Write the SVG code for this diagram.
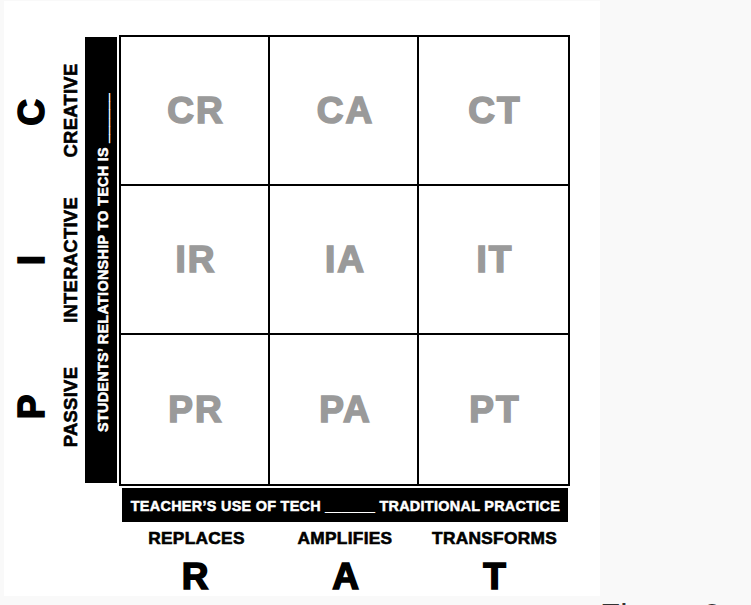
<svg xmlns="http://www.w3.org/2000/svg" width="751" height="605" viewBox="0 0 751 605">
<style>
.b{font-family:"Liberation Sans",Arial,sans-serif;font-weight:bold}
.cell rect{fill:#fff;stroke:#000;stroke-width:2}
.cl{font-size:37px;fill:#9a9a9a;stroke:#9a9a9a;stroke-width:1.6;letter-spacing:2px;text-anchor:middle}
.big{font-size:37px;fill:#000;stroke:#000;stroke-width:1.6;text-anchor:middle}
.side{font-size:18.4px;fill:#000;stroke:#000;stroke-width:0.6;letter-spacing:0.3px;text-anchor:middle}
.bar{fill:#000}
.wt{font-size:14.4px;fill:#fff;stroke:#fff;stroke-width:0.5;letter-spacing:0.3px;text-anchor:middle}
.col{font-size:17.3px;fill:#000;stroke:#000;stroke-width:0.6;letter-spacing:0.3px;text-anchor:middle}
</style>
<rect width="751" height="605" fill="#f9f9f9"/>
<rect x="4" y="1" width="596" height="595" fill="#fff"/>

<g id="connectors"/>

<g id="cell-CR" class="cell"><rect x="120" y="36" width="149" height="149"/><text class="b cl" x="196" y="122.5">CR</text></g>
<g id="cell-CA" class="cell"><rect x="269" y="36" width="149" height="149"/><text class="b cl" x="345.5" y="122.5">CA</text></g>
<g id="cell-CT" class="cell"><rect x="418" y="36" width="151" height="149"/><text class="b cl" x="495" y="122.5">CT</text></g>
<g id="cell-IR" class="cell"><rect x="120" y="185" width="149" height="149"/><text class="b cl" x="196" y="271.5">IR</text></g>
<g id="cell-IA" class="cell"><rect x="269" y="185" width="149" height="149"/><text class="b cl" x="345.5" y="271.5">IA</text></g>
<g id="cell-IT" class="cell"><rect x="418" y="185" width="151" height="149"/><text class="b cl" x="495" y="271.5">IT</text></g>
<g id="cell-PR" class="cell"><rect x="120" y="334" width="149" height="151"/><text class="b cl" x="196" y="421.5">PR</text></g>
<g id="cell-PA" class="cell"><rect x="269" y="334" width="149" height="151"/><text class="b cl" x="345.5" y="421.5">PA</text></g>
<g id="cell-PT" class="cell"><rect x="418" y="334" width="151" height="151"/><text class="b cl" x="495" y="421.5">PT</text></g>

<g id="y-axis-bar">
<rect class="bar" x="85" y="37" width="32" height="446"/>
<text class="b wt" font-size="14.6" transform="translate(108,262.5) rotate(-90)">STUDENTS’ RELATIONSHIP TO TECH IS ______</text>
</g>

<g id="y-labels">
<text class="b side" transform="translate(77,110.5) rotate(-90)">CREATIVE</text>
<text class="b side" transform="translate(77,260) rotate(-90)">INTERACTIVE</text>
<text class="b side" transform="translate(77,407) rotate(-90)">PASSIVE</text>
<text class="b big" transform="translate(44,112.5) rotate(-90)">C</text>
<text class="b big" transform="translate(44,260) rotate(-90)">I</text>
<text class="b big" transform="translate(44,407) rotate(-90)">P</text>
</g>

<g id="x-axis-bar">
<rect class="bar" x="122" y="488" width="446" height="34"/>
<text class="b wt" x="345.5" y="511">TEACHER’S USE OF TECH ______ TRADITIONAL PRACTICE</text>
</g>

<g id="x-labels">
<text class="b col" x="196.5" y="544">REPLACES</text>
<text class="b col" x="345" y="544">AMPLIFIES</text>
<text class="b col" x="494.5" y="544">TRANSFORMS</text>
<text class="b big" x="195" y="589">R</text>
<text class="b big" x="345.5" y="589">A</text>
<text class="b big" x="494.5" y="589">T</text>
</g>

<text x="600" y="627" font-family="Liberation Sans, Arial, sans-serif" font-size="33" fill="#333">Figure 2</text>
</svg>
